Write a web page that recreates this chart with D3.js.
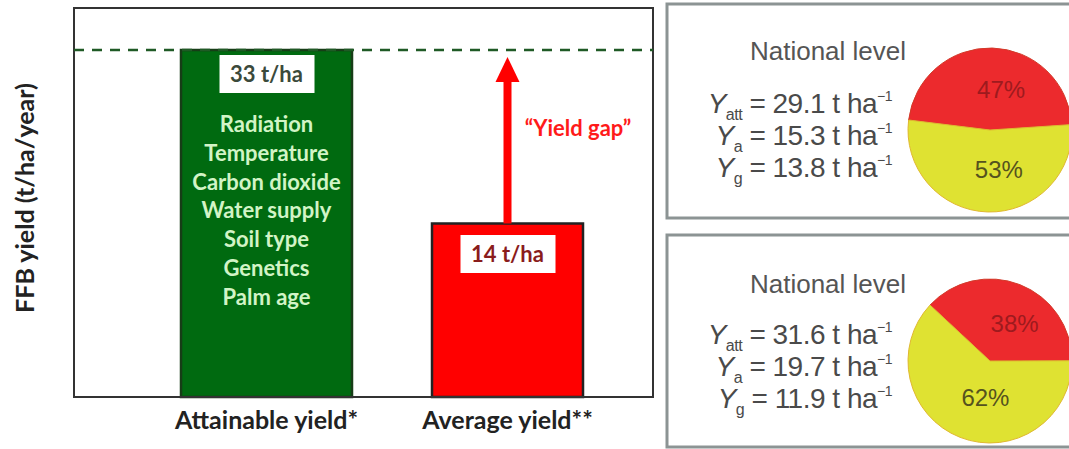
<!DOCTYPE html>
<html>
<head>
<meta charset="utf-8">
<script src="https://cdn.jsdelivr.net/npm/d3@7"></script>
<style>
  body { margin: 0; background: #fff; }
  svg { display: block; }
</style>
</head>
<body>
<div id="chart"></div>
<script>
// bar chart data (schematic: bar heights as drawn, labels as printed)
var categories = ["Attainable yield*", "Average yield**"];
var barLevels = [33, 16.5];
var yieldLabels = ["33 t/ha", "14 t/ha"];
var factors = ["Radiation", "Temperature", "Carbon dioxide", "Water supply", "Soil type", "Genetics", "Palm age"];

// national level panels
var panelTitles = ["National level", "National level"];
var yAtt = [29.1, 31.6];
var yAct = [15.3, 19.7];
var yGap = [13.8, 11.9];
var gapShare = [47, 38];
var actShare = [53, 62];

function init() {
    var w = 1069, h = 449;

    var svg = d3.select("#chart")
        .append("svg")
        .attr("width", w)
        .attr("height", h);

    svg.append("rect").attr("width", w).attr("height", h).attr("fill", "#fff");

    // ---------- left chart ----------
    var frame = { x0: 74, x1: 653, y0: 8, y1: 397 };
    var barWidths = [171, 151];
    var barFill = ["#006a10", "#ff0000"];
    var barStroke = ["#173d17", "#222"];

    var x = d3.scalePoint()
        .domain(categories)
        .range([266.5, 507.5]);

    var y = d3.scaleLinear()
        .domain([0, 33])
        .range([frame.y1, 50]);

    var boldFont = "Lato, 'Open Sans', sans-serif";

    // bars
    svg.selectAll(".bar")
        .data(categories)
        .enter()
        .append("rect")
        .attr("class", "bar")
        .attr("x", function(d, i) { return x(d) - barWidths[i] / 2; })
        .attr("y", function(d, i) { return y(barLevels[i]); })
        .attr("width", function(d, i) { return barWidths[i]; })
        .attr("height", function(d, i) { return y(0) - y(barLevels[i]); })
        .attr("fill", function(d, i) { return barFill[i]; })
        .attr("stroke", function(d, i) { return barStroke[i]; })
        .attr("stroke-width", 2.5);

    // frame
    svg.append("rect")
        .attr("x", frame.x0)
        .attr("y", frame.y0)
        .attr("width", frame.x1 - frame.x0)
        .attr("height", frame.y1 - frame.y0)
        .attr("fill", "none")
        .attr("stroke", "#333")
        .attr("stroke-width", 2);

    // dashed attainable line
    svg.append("line")
        .attr("x1", frame.x0)
        .attr("x2", frame.x1)
        .attr("y1", y(barLevels[0]))
        .attr("y2", y(barLevels[0]))
        .attr("stroke", "#1f5a25")
        .attr("stroke-width", 2.5)
        .attr("stroke-dasharray", "10,8");

    // value label boxes
    var labelColor = ["#3b4a3b", "#8a1c1c"];
    var labelBoxY = [55, 235];
    categories.forEach(function(c, i) {
        svg.append("rect")
            .attr("x", x(c) - 47)
            .attr("y", labelBoxY[i])
            .attr("width", 95)
            .attr("height", 38)
            .attr("fill", "#fff");
        svg.append("text")
            .attr("x", x(c))
            .attr("y", labelBoxY[i] + 27)
            .attr("text-anchor", "middle")
            .attr("font-family", boldFont)
            .attr("font-weight", "bold")
            .attr("font-size", 22)
            .attr("fill", labelColor[i])
            .text(yieldLabels[i]);
    });

    // factor list inside the green bar
    svg.selectAll(".factor")
        .data(factors)
        .enter()
        .append("text")
        .attr("class", "factor")
        .attr("x", x(categories[0]))
        .attr("y", function(d, i) { return 132 + i * 28.8; })
        .attr("text-anchor", "middle")
        .attr("font-family", boldFont)
        .attr("font-weight", "bold")
        .attr("font-size", 22)
        .attr("fill", "#d2f4c6")
        .text(function(d) { return d; });

    // yield gap arrow
    var ax = x(categories[1]);
    svg.append("line")
        .attr("x1", ax).attr("x2", ax)
        .attr("y1", y(barLevels[1]))
        .attr("y2", 80)
        .attr("stroke", "#ff0000")
        .attr("stroke-width", 8);
    svg.append("path")
        .attr("d", "M" + ax + "," + 57 + "L" + (ax + 12) + "," + 82 + "L" + (ax - 12) + "," + 82 + "Z")
        .attr("fill", "#ff0000");

    svg.append("text")
        .attr("x", 578)
        .attr("y", 136)
        .attr("text-anchor", "middle")
        .attr("font-family", boldFont)
        .attr("font-weight", "bold")
        .attr("font-size", 22)
        .attr("fill", "#ff1a1a")
        .text("\u201CYield gap\u201D");

    // category labels
    svg.selectAll(".xlab")
        .data(categories)
        .enter()
        .append("text")
        .attr("class", "xlab")
        .attr("x", function(d) { return x(d); })
        .attr("y", 429)
        .attr("text-anchor", "middle")
        .attr("font-family", boldFont)
        .attr("font-weight", "bold")
        .attr("font-size", 25)
        .attr("fill", "#222")
        .text(function(d) { return d; });

    // y axis title
    svg.append("text")
        .attr("transform", "translate(34,198) rotate(-90)")
        .attr("text-anchor", "middle")
        .attr("font-family", boldFont)
        .attr("font-weight", "bold")
        .attr("font-size", 25)
        .attr("fill", "#222")
        .text("FFB yield (t/ha/year)");

    // ---------- right panels ----------
    var panelTop = [4, 235];
    var panelH = [214, 212];
    var pieCy = [130, 361];
    var pieStart = [-83, -47]; // degrees, where the red slice begins
    var pieColors = ["#ec2a2d", "#dfe232"];
    var pctColors = ["#9e1a1e", "#55521e"];
    var eqFont = "'Liberation Sans', Arial, sans-serif";

    var arc = d3.arc().innerRadius(0).outerRadius(82);
    var labelArc = d3.arc().innerRadius(40).outerRadius(40);

    panelTitles.forEach(function(title, p) {
        var g = svg.append("g");
        var top = panelTop[p];

        g.append("rect")
            .attr("x", 667)
            .attr("y", top)
            .attr("width", 430)
            .attr("height", panelH[p])
            .attr("fill", "#fff")
            .attr("stroke", "#8c9494")
            .attr("stroke-width", 3);

        g.append("text")
            .attr("x", 828)
            .attr("y", top + (p === 0 ? 56 : 58))
            .attr("text-anchor", "middle")
            .attr("font-family", eqFont)
            .attr("font-size", 26)
            .attr("fill", "#555")
            .text(title);

        var eqs = [
            { sub: "att", v: yAtt[p] },
            { sub: "a", v: yAct[p] },
            { sub: "g", v: yGap[p] }
        ];
        eqs.forEach(function(e, k) {
            var t = g.append("text")
                .attr("x", 892)
                .attr("y", top + 109 + k * 32)
                .attr("text-anchor", "end")
                .attr("font-family", eqFont)
                .attr("font-size", 28)
                .attr("letter-spacing", -0.5)
                .attr("fill", "#4a4a4a");
            t.append("tspan").attr("font-style", "italic").text("Y");
            t.append("tspan").attr("font-size", 16).attr("dy", 7).text(e.sub);
            t.append("tspan").attr("dy", -7).text(" = " + e.v.toFixed(1) + " t ha");
            t.append("tspan").attr("font-size", 14).attr("dy", -12).text("\u22121");
        });

        var slices = [
            { label: gapShare[p] + "%", value: gapShare[p] },
            { label: actShare[p] + "%", value: actShare[p] }
        ];
        var a0 = pieStart[p] * Math.PI / 180;
        var pie = d3.pie()
            .sort(null)
            .value(function(d) { return d.value; })
            .startAngle(a0)
            .endAngle(a0 + 2 * Math.PI);

        var pg = g.append("g").attr("transform", "translate(990," + pieCy[p] + ")");
        var arcs = pie(slices);

        pg.selectAll("path")
            .data(arcs)
            .enter()
            .append("path")
            .attr("d", arc)
            .attr("fill", function(d, i) { return pieColors[i]; })
            .attr("stroke", function(d, i) { return i === 0 ? "#d23a2a" : "#e0b830"; })
            .attr("stroke-width", 1);

        pg.selectAll("text")
            .data(arcs)
            .enter()
            .append("text")
            .attr("transform", function(d) {
                var c = labelArc.centroid(d);
                return "translate(" + (c[0] + 10) + "," + (c[1] + 8) + ")";
            })
            .attr("text-anchor", "middle")
            .attr("font-family", eqFont)
            .attr("font-size", 24)
            .attr("fill", function(d, i) { return pctColors[i]; })
            .text(function(d) { return d.data.label; });
    });
}

window.onload = init;
</script>
</body>
</html>
